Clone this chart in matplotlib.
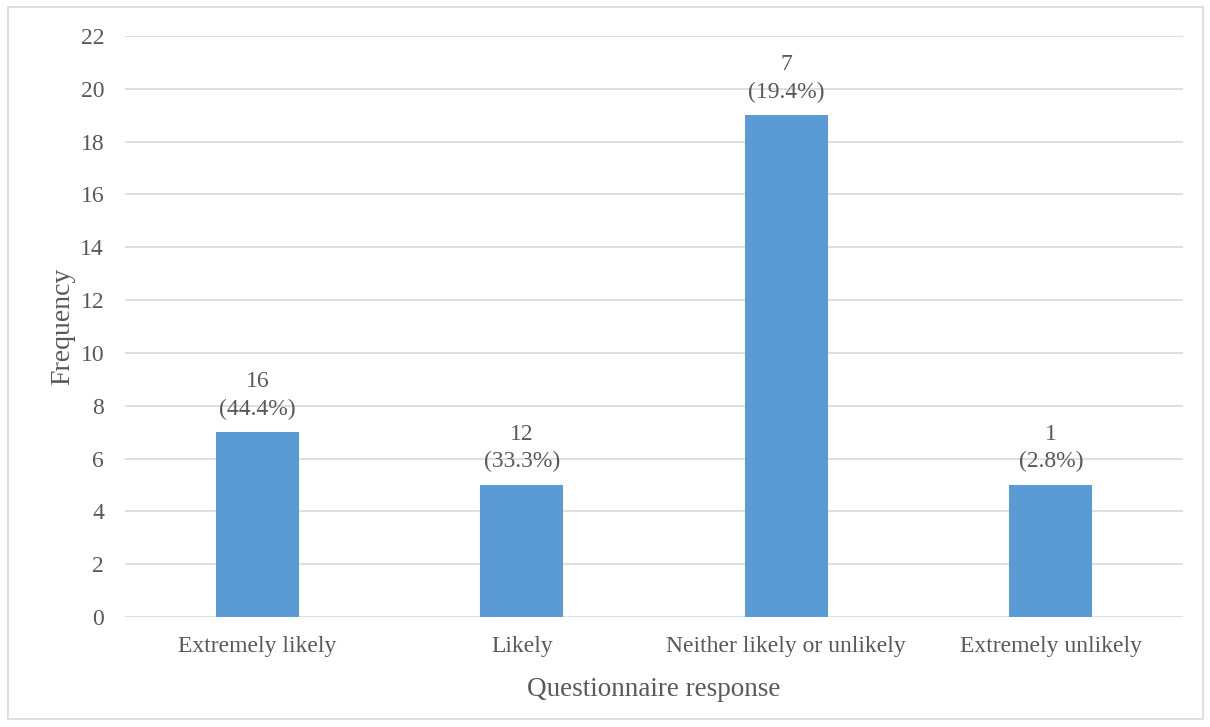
import matplotlib
matplotlib.use("Agg")
import matplotlib.pyplot as plt
from matplotlib.patches import Rectangle

categories = ["Extremely likely", "Likely", "Neither likely or unlikely", "Extremely unlikely"]
# Bar heights and the count/percentage labels are separate series here:
# the labels (16, 12, 7, 1 of 36) do not equal the plotted bar heights.
bar_heights = [7, 5, 19, 5]
counts = [16, 12, 7, 1]
percents = ["44.4%", "33.3%", "19.4%", "2.8%"]
y_ticks = list(range(0, 23, 2))

text_color = "#595959"
bar_color = "#5B9BD5"
grid_color = "#D9D9D9"

plt.rcParams["font.family"] = ["Liberation Serif", "DejaVu Serif"]

fig = plt.figure(figsize=(12.10, 7.27), dpi=100)
ax = fig.add_axes([125 / 1210, 1 - 617 / 727, (1183 - 125) / 1210, (617 - 36) / 727])

x = list(range(len(categories)))
ax.bar(x, bar_heights, width=0.314, color=bar_color, zorder=3)

for xi, h, c, p in zip(x, bar_heights, counts, percents):
    ax.annotate(f"{c}\n({p})", xy=(xi, h), xytext=(0, 9), textcoords="offset points",
                ha="center", va="bottom", fontsize=17, color=text_color, linespacing=1.4)

ax.set_xlim(-0.5, len(categories) - 0.5)
ax.set_ylim(0, 22)
ax.set_yticks(y_ticks)
ax.set_xticks(x)
ax.set_xticklabels(categories)
ax.tick_params(axis="both", length=0, colors=text_color, labelsize=17)
ax.tick_params(axis="y", pad=15)
ax.tick_params(axis="x", pad=14)
ax.grid(axis="y", color=grid_color, linewidth=1.2, zorder=0)
for s in ax.spines.values():
    s.set_visible(False)

ax.set_ylabel("Frequency", fontsize=20, color=text_color, labelpad=4)
ax.set_xlabel("Questionnaire response", fontsize=19.5, color=text_color, labelpad=14)

# light frame around the whole chart area
fig.patches.append(Rectangle((8 / 1210, 1 - 719 / 727), (1203 - 8) / 1210, (719 - 7) / 727,
                             transform=fig.transFigure, fill=False, edgecolor=grid_color,
                             linewidth=1.2))

fig.savefig("out.png", dpi=100)
